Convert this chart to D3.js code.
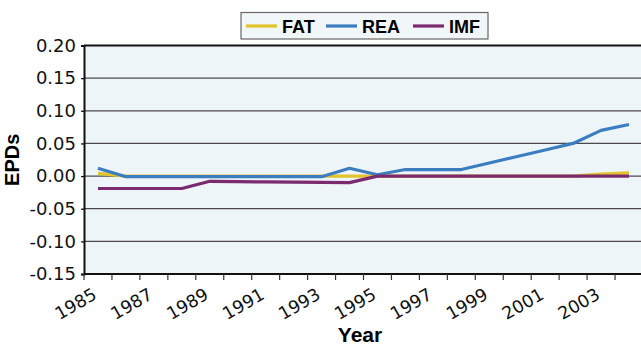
<!DOCTYPE html>
<html><head><meta charset="utf-8">
<script src="https://cdn.jsdelivr.net/npm/d3@7"></script>
<style>
html,body{margin:0;padding:0;background:#fff;overflow:hidden;}
svg{display:block;}
</style></head>
<body>
<svg id="chart" width="641" height="348"></svg>
<script>
const years = [1985,1986,1987,1988,1989,1990,1991,1992,1993,1994,1995,1996,1997,1998,1999,2000,2001,2002,2003,2004];
const fat = [0.004,0.000,0.000,0.000,0.000,0.000,0.000,0.000,0.000,0.000,0.000,0.000,0.000,0.000,0.000,0.000,0.000,0.000,0.003,0.005];
const rea = [0.012,-0.001,-0.001,-0.001,-0.001,-0.001,-0.001,-0.001,-0.001,0.012,0.002,0.010,0.010,0.010,0.020,0.030,0.040,0.050,0.070,0.079];
const imf = [-0.019,-0.019,-0.019,-0.019,-0.008,-0.0085,-0.009,-0.0093,-0.0096,-0.010,0.000,0.000,0.000,0.000,0.000,0.000,0.000,0.000,0.000,0.000];
const yTicks = [0.20,0.15,0.10,0.05,0.00,-0.05,-0.10,-0.15];
const xLabelYears = [1985,1987,1989,1991,1993,1995,1997,1999,2001,2003];
const seriesNames = ["FAT","REA","IMF"];
const seriesColors = ["#e2c32b","#3b7ec0","#7b2a6f"];
const seriesData = [fat, rea, imf];

const svg = d3.select("#chart");
const pL = 84, pR = 643, pT = 45.5, pB = 274;

const x = d3.scaleBand().domain(years).range([pL, pR]).paddingInner(0).paddingOuter(0);
const y = d3.scaleLinear().domain([-0.15, 0.20]).range([pB, pT]);

// plot background
svg.append("rect").attr("x", pL).attr("y", pT).attr("width", pR - pL).attr("height", pB - pT).attr("fill", "#edf5f9");

// gridlines
svg.append("g").selectAll("line").data(yTicks.filter(d => d < 0.19 && d > -0.14)).join("line")
  .attr("x1", pL).attr("x2", pR).attr("y1", d => y(d)).attr("y2", d => y(d))
  .attr("stroke", "#4a4a4a").attr("stroke-width", 1.3);

// top border
svg.append("line").attr("x1", pL).attr("x2", pR).attr("y1", y(0.20)).attr("y2", y(0.20)).attr("stroke", "#111").attr("stroke-width", 2);

// y axis
const yAxis = d3.axisLeft(y).tickValues(yTicks).tickFormat(d3.format(".2f")).tickSize(3).tickPadding(5);
const gy = svg.append("g").attr("transform", `translate(${pL},0)`).call(yAxis);
gy.select(".domain").attr("stroke", "#111").attr("stroke-width", 2);
gy.selectAll(".tick line").attr("stroke", "#111").attr("stroke-width", 1.3);
gy.selectAll(".tick text").attr("font-family", "DejaVu Sans").attr("font-size", 18).attr("fill", "#111")
  .text(d => d3.format(".2f")(d).replace("−", "-"));

// x axis: ticks at band boundaries
const bounds = years.map(yv => x(yv)).concat([pR]);
const gx = svg.append("g");
gx.append("line").attr("x1", pL).attr("x2", pR).attr("y1", pB).attr("y2", pB).attr("stroke", "#111").attr("stroke-width", 2);
gx.selectAll("line.tk").data(bounds).join("line").attr("class", "tk")
  .attr("x1", d => d).attr("x2", d => d).attr("y1", pB).attr("y2", pB + 6)
  .attr("stroke", "#333").attr("stroke-width", 1.2);
gx.selectAll("text").data(xLabelYears).join("text")
  .attr("transform", d => `translate(${x(d) + x.bandwidth() / 2},${298}) rotate(-30)`)
  .attr("text-anchor", "end")
  .attr("font-family", "DejaVu Sans").attr("font-size", 17.5).attr("fill", "#111")
  .text(d => d);

// lines
const line = d3.line().x((d, i) => x(years[i]) + x.bandwidth() / 2).y(d => y(d));
seriesData.forEach((s, k) => {
  svg.append("path").datum(s).attr("d", line).attr("fill", "none")
    .attr("stroke", seriesColors[k]).attr("stroke-width", 3.2).attr("stroke-linejoin", "round");
});

// axis titles
svg.append("text").attr("x", 360).attr("y", 342).attr("text-anchor", "middle")
  .attr("font-family", "Liberation Sans Narrow, Arial Narrow, sans-serif").attr("font-weight", "bold")
  .attr("font-size", 21).attr("fill", "#000").text("Year");
svg.append("text").attr("transform", `translate(19,${(pT + pB) / 2}) rotate(-90)`).attr("text-anchor", "middle")
  .attr("font-family", "Liberation Sans Narrow, Arial Narrow, sans-serif").attr("font-weight", "bold")
  .attr("font-size", 20).attr("fill", "#000").text("EPDs");

// legend
const lg = svg.append("g");
lg.append("rect").attr("x", 241).attr("y", 12.5).attr("width", 247).attr("height", 26.5)
  .attr("fill", "#f1f6f9").attr("stroke", "#666").attr("stroke-width", 1.2);
const legX = [246, 326, 413];
seriesNames.forEach((n, k) => {
  lg.append("line").attr("x1", legX[k]).attr("x2", legX[k] + 31).attr("y1", 26).attr("y2", 26)
    .attr("stroke", seriesColors[k]).attr("stroke-width", 3.2);
  lg.append("text").attr("x", legX[k] + 36).attr("y", 32.5)
    .attr("font-family", "Liberation Sans Narrow, Arial Narrow, sans-serif").attr("font-weight", "bold")
    .attr("font-size", 18).attr("fill", "#000").text(n);
});
</script>
</body></html>
